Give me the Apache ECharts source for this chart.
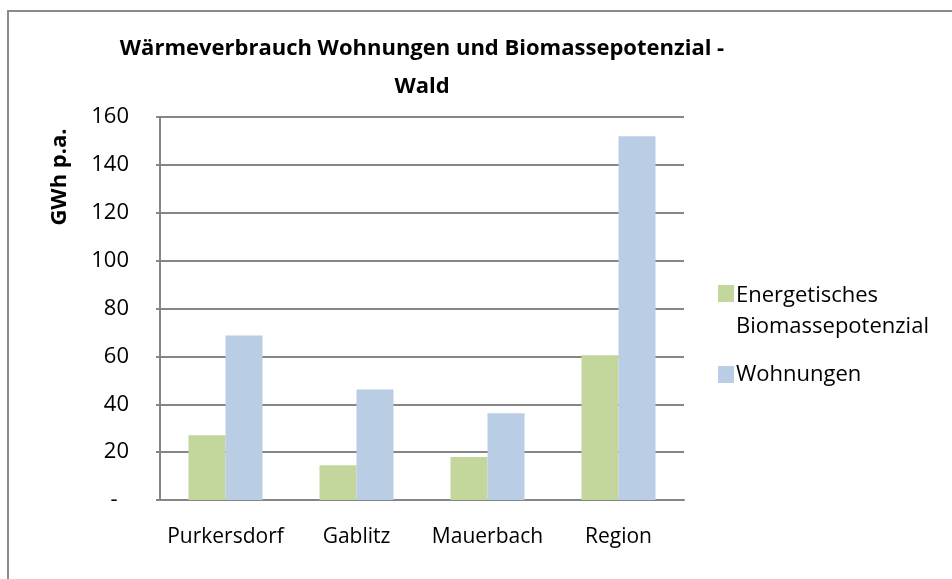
<!DOCTYPE html>
<html>
<head>
<meta charset="utf-8">
<script src="https://cdn.jsdelivr.net/npm/echarts@6/dist/echarts.min.js"></script>
<style>html,body{margin:0;padding:0;background:#fff}#c{width:952px;height:579px}</style>
</head>
<body>
<div id="c"></div>
<script>
const categories = ['Purkersdorf', 'Gablitz', 'Mauerbach', 'Region'];
const biomasse = [27, 14.5, 18, 60.5];
const wohnungen = [68.7, 46.2, 36.2, 152];
const seriesNames = ['Energetisches\nBiomassepotenzial', 'Wohnungen'];
const titleText = 'Wärmeverbrauch Wohnungen und Biomassepotenzial -\nWald';
const yName = 'GWh p.a.';

const FONT = 'Open Sans';
const chart = echarts.init(document.getElementById('c'));
chart.setOption({
  backgroundColor: '#ffffff',
  animation: false,
  title: {
    text: titleText,
    left: 417, top: 25, textAlign: 'center',
    textStyle: { fontFamily: FONT, fontWeight: 'bold', fontSize: 22, lineHeight: 38, color: '#000' }
  },
  graphic: [
    { type: 'rect', shape: { x: 8, y: 11, width: 2000, height: 2000 },
      style: { fill: 'none', stroke: '#8a8a8a', lineWidth: 2 }, silent: true },
    { type: 'text', x: 60, y: 177, rotation: Math.PI / 2,
      style: { text: yName, fontFamily: FONT, fontWeight: 'bold', fontSize: 22, fill: '#000',
               align: 'center', verticalAlign: 'middle' } }
  ],
  legend: [
    { left: 713, top: 275, orient: 'vertical', selectedMode: false,
      itemWidth: 16, itemHeight: 62, itemGap: 0,
      data: [{ name: seriesNames[0], icon: 'path://M0,0M0,5H16V22H0ZM0,62' }],
      textStyle: { fontFamily: FONT, fontSize: 22, lineHeight: 31, color: '#000', padding: [0, 0, 0, -3] } },
    { left: 713, top: 354, orient: 'vertical', selectedMode: false,
      itemWidth: 16, itemHeight: 17, itemGap: 0,
      data: [{ name: seriesNames[1], icon: 'rect' }],
      textStyle: { fontFamily: FONT, fontSize: 22, lineHeight: 31, color: '#000', padding: [0, 0, 0, -3] } }
  ],
  grid: { left: 160, right: 268, top: 117, bottom: 79, containLabel: false },
  xAxis: {
    type: 'category', data: categories,
    axisLine: { lineStyle: { color: '#868686', width: 2 } },
    axisTick: { show: false },
    axisLabel: { interval: 0, fontFamily: FONT, fontSize: 21, color: '#000', margin: 27 }
  },
  yAxis: {
    type: 'value', min: 0, max: 160, interval: 20,
    axisLine: { show: true, lineStyle: { color: '#868686', width: 2 } },
    axisTick: { show: true, length: 4, lineStyle: { color: '#868686', width: 2 } },
    splitLine: { lineStyle: { color: '#868686', width: 2 } },
    axisLabel: { fontFamily: FONT, fontSize: 22, color: '#000', margin: 31,
      formatter: v => v === 0 ? '-  ' : String(v) }
  },
  series: [
    { name: seriesNames[0], type: 'bar', data: biomasse, barGap: '0%', barCategoryGap: '43.5%',
      itemStyle: { color: '#c3d69b' } },
    { name: seriesNames[1], type: 'bar', data: wohnungen, barGap: '0%', barCategoryGap: '43.5%',
      itemStyle: { color: '#b9cde5' } }
  ]
});
</script>
</body>
</html>
